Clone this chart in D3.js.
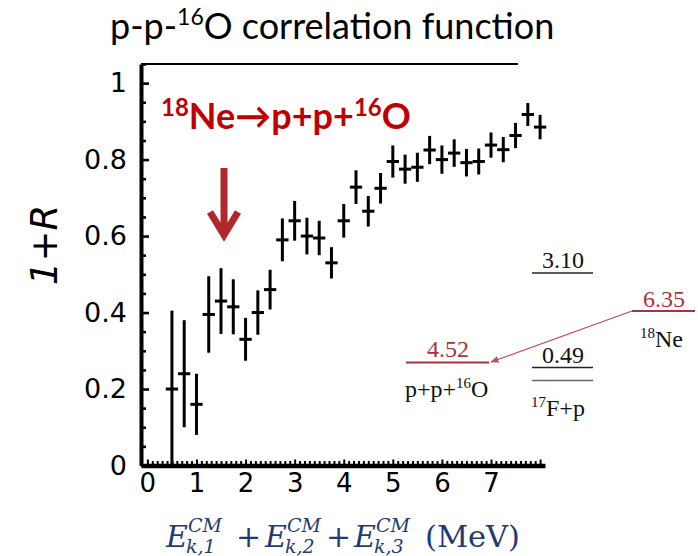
<!DOCTYPE html>
<html>
<head>
<meta charset="utf-8">
<script src="https://cdn.jsdelivr.net/npm/d3@7"></script>
<style>
  html, body { margin: 0; padding: 0; background: #ffffff; }
  svg { display: block; }
</style>
</head>
<body>
<svg id="chart" width="698" height="556"></svg>
<script>
// Summed centre-of-mass kinetic energy of the three particles (MeV), bin centres
const energy = [0.50, 0.75, 1.00, 1.25, 1.50, 1.75, 2.00, 2.25, 2.50, 2.75,
                3.00, 3.25, 3.50, 3.75, 4.00, 4.25, 4.50, 4.75, 5.00, 5.25,
                5.50, 5.75, 6.00, 6.25, 6.50, 6.75, 7.00, 7.25, 7.50, 7.75, 8.00];
// Correlation function 1+R
const ratio = [0.200, 0.240, 0.160, 0.395, 0.430, 0.415, 0.330, 0.400, 0.460, 0.590,
               0.640, 0.600, 0.595, 0.530, 0.640, 0.728, 0.665, 0.725, 0.795, 0.775,
               0.780, 0.825, 0.800, 0.817, 0.792, 0.795, 0.838, 0.826, 0.863, 0.918, 0.885];
// Statistical uncertainty on 1+R
const ratioErr = [0.205, 0.140, 0.080, 0.100, 0.086, 0.072, 0.056, 0.058, 0.052, 0.056,
                  0.052, 0.048, 0.045, 0.041, 0.044, 0.044, 0.040, 0.040, 0.042, 0.038,
                  0.038, 0.037, 0.037, 0.036, 0.036, 0.034, 0.033, 0.033, 0.033, 0.030, 0.032];
const binHalfWidth = 0.125;

// Axis ticks
const xTickValues = [0, 1, 2, 3, 4, 5, 6, 7];
const xTickLabels = ["0", "1", "2", "3", "4", "5", "6", "7"];
const yTickValues = [0, 0.2, 0.4, 0.6, 0.8, 1];
const yTickLabels = ["0", "0.2", "0.4", "0.6", "0.8", "1"];

// Decay-scheme levels (MeV)
const schemeLevels = ["3.10", "0.49", "6.35", "4.52"];

const svg = d3.select("#chart");

const x = d3.scaleLinear().domain([-0.13, 8.1]).range([141, 545]);
const y = d3.scaleLinear().domain([0, 1.05]).range([465.5, 64]);

const axisFont = "'DejaVu Sans', sans-serif";

// ---- frame: top edge only partly drawn, no right edge
svg.append("line")
  .attr("x1", x(-0.13)).attr("x2", 518)
  .attr("y1", y(1.05)).attr("y2", y(1.05))
  .attr("stroke", "#000").attr("stroke-width", 2);

// ---- y axis (ticks pointing into the plot)
const yMinor = d3.range(0, 1.051, 0.05).filter(v => Math.abs(v * 5 - Math.round(v * 5)) > 1e-6);
const yMinorAxis = svg.append("g")
  .attr("transform", `translate(${x(-0.13)},0)`)
  .call(d3.axisLeft(y).tickValues(yMinor).tickSizeInner(-5).tickSizeOuter(0).tickFormat(""));
yMinorAxis.select(".domain").remove();
yMinorAxis.selectAll(".tick line").attr("stroke-width", 2.6);

const yAxis = svg.append("g")
  .attr("transform", `translate(${x(-0.13)},0)`)
  .call(d3.axisLeft(y).tickValues(yTickValues).tickSizeInner(-8).tickSizeOuter(0)
    .tickPadding(14).tickFormat((d, i) => yTickLabels[i]));
yAxis.select(".domain").attr("stroke-width", 4);
yAxis.selectAll(".tick line").attr("stroke-width", 2.6);
yAxis.selectAll(".tick text")
  .attr("font-family", axisFont).attr("font-size", 27).attr("fill", "#000");

// ---- x axis
const xMinor = d3.range(0, 8.05, 0.1).map(v => +v.toFixed(1)).filter(v => v % 1 !== 0);
const xMinorAxis = svg.append("g")
  .attr("transform", `translate(0,${y(0)})`)
  .call(d3.axisBottom(x).tickValues(xMinor).tickSizeInner(-4.5).tickSizeOuter(0).tickFormat(""));
xMinorAxis.select(".domain").remove();
xMinorAxis.selectAll(".tick line").attr("stroke-width", 2);

const xAxis = svg.append("g")
  .attr("transform", `translate(0,${y(0)})`)
  .call(d3.axisBottom(x).tickValues(xTickValues.concat([8])).tickSizeInner(-6).tickSizeOuter(0)
    .tickPadding(8).tickFormat((d, i) => xTickLabels[i] || ""));
xAxis.select(".domain").attr("stroke-width", 4.5);
xAxis.selectAll(".tick line").attr("stroke-width", 2);
xAxis.selectAll(".tick text")
  .attr("font-family", axisFont).attr("font-size", 26).attr("fill", "#000");

// ---- data: error crosses
const pts = svg.append("g").attr("stroke", "#000").attr("stroke-width", 3);
energy.forEach((e, i) => {
  const lo = Math.max(0, ratio[i] - ratioErr[i]);
  const hi = ratio[i] + ratioErr[i];
  pts.append("line")
    .attr("x1", x(e)).attr("x2", x(e))
    .attr("y1", y(lo)).attr("y2", y(hi));
  pts.append("line")
    .attr("x1", x(e - binHalfWidth)).attr("x2", x(e + binHalfWidth))
    .attr("y1", y(ratio[i])).attr("y2", y(ratio[i]));
});

// ---- y title
svg.append("text")
  .attr("transform", "translate(57,245) rotate(-90)")
  .attr("text-anchor", "middle")
  .attr("font-family", axisFont).attr("font-style", "italic")
  .attr("font-size", 37).attr("fill", "#000")
  .text("1+R");

// ---- chart title
const title = svg.append("text")
  .attr("x", 110).attr("y", 39)
  .attr("font-family", "Lato, 'Open Sans', sans-serif")
  .attr("font-size", 36).attr("fill", "#000");
title.append("tspan").text("p-p-");
title.append("tspan").attr("font-size", 23).attr("dy", -14).text("16");
title.append("tspan").attr("dy", 14).text("O correlation function");

// ---- decay channel annotation
const red = "#c00000";
const ann = svg.append("text")
  .attr("x", 161).attr("y", 129)
  .attr("font-family", "Lato, 'Open Sans', sans-serif").attr("font-weight", "bold")
  .attr("font-size", 36).attr("fill", red);
ann.append("tspan").attr("font-size", 24).attr("dy", -13).text("18");
ann.append("tspan").attr("dy", 13).text("Ne\u2192p+p+");
ann.append("tspan").attr("font-size", 24).attr("dy", -13).text("16");
ann.append("tspan").attr("dy", 13).text("O");

// downward arrow marking the 6.35 MeV region
const arrowCol = "#b0282e";
svg.append("path")
  .attr("d", "M224,168 L224,232 M210,212 L224,235 L238,212")
  .attr("fill", "none").attr("stroke", arrowCol)
  .attr("stroke-width", 7).attr("stroke-linejoin", "miter").attr("stroke-linecap", "butt");

// ---- decay scheme
const serif = "'Liberation Serif', 'Times New Roman', serif";
const lvlRed = "#a8323e";
const scheme = svg.append("g").attr("font-family", serif).attr("font-size", 24);

function level(x1, x2, yy, col, w) {
  scheme.append("line").attr("x1", x1).attr("x2", x2).attr("y1", yy).attr("y2", yy)
    .attr("stroke", col).attr("stroke-width", w);
}
// 17F+p levels
level(532, 593, 273, "#222", 1.6);
scheme.append("text").attr("x", 563).attr("y", 268).attr("text-anchor", "middle")
  .attr("fill", "#111").text(schemeLevels[0]);
level(532, 593, 367.5, "#222", 1.6);
scheme.append("text").attr("x", 563).attr("y", 363).attr("text-anchor", "middle")
  .attr("fill", "#111").text(schemeLevels[1]);
level(532, 593, 380.5, "#666", 1.6);
const fp = scheme.append("text").attr("x", 531).attr("y", 416).attr("fill", "#111");
fp.append("tspan").attr("font-size", 15).attr("dy", -9).text("17");
fp.append("tspan").attr("dy", 9).text("F+p");

// 18Ne level
level(632, 695, 311, lvlRed, 2);
scheme.append("text").attr("x", 664).attr("y", 307).attr("text-anchor", "middle")
  .attr("fill", lvlRed).text(schemeLevels[2]);
const ne = scheme.append("text").attr("x", 640).attr("y", 347).attr("fill", "#111");
ne.append("tspan").attr("font-size", 15).attr("dy", -9).text("18");
ne.append("tspan").attr("dy", 9).text("Ne");

// p+p+16O threshold
level(406, 489, 362.5, lvlRed, 2);
scheme.append("text").attr("x", 448).attr("y", 357).attr("text-anchor", "middle")
  .attr("fill", lvlRed).text(schemeLevels[3]);
const ppo = scheme.append("text").attr("x", 405).attr("y", 397).attr("fill", "#111");
ppo.append("tspan").text("p+p+");
ppo.append("tspan").attr("font-size", 15).attr("dy", -9).text("16");
ppo.append("tspan").attr("dy", 9).text("O");

// transition arrow
svg.append("defs").append("marker")
  .attr("id", "head").attr("viewBox", "0 0 10 10").attr("refX", 9).attr("refY", 5)
  .attr("markerWidth", 7).attr("markerHeight", 7).attr("orient", "auto")
  .append("path").attr("d", "M0,1 L10,5 L0,9 Z").attr("fill", "#c44a5e");
svg.append("line")
  .attr("x1", 632).attr("y1", 311).attr("x2", 491).attr("y2", 362)
  .attr("stroke", "#c44a5e").attr("stroke-width", 1.2)
  .attr("marker-end", "url(#head)");

// ---- x title: sum of the three kinetic energies
const blue = "#1f3b73";
const xTitle = svg.append("g").attr("font-family", "'DejaVu Serif', serif").attr("fill", blue);
const mainBase = 547, supBase = 532, subBase = 553;
function energyTerm(x0, sub) {
  xTitle.append("text").attr("x", x0).attr("y", mainBase)
    .attr("font-style", "italic").attr("font-size", 30).text("E");
  xTitle.append("text").attr("x", x0 + 22).attr("y", supBase)
    .attr("font-style", "italic").attr("font-size", 19).text("CM");
  xTitle.append("text").attr("x", x0 + 20).attr("y", subBase)
    .attr("font-style", "italic").attr("font-size", 19).text("k," + sub);
}
energyTerm(166, "1");
xTitle.append("text").attr("x", 236).attr("y", mainBase).attr("font-size", 30).text("+");
energyTerm(265, "2");
xTitle.append("text").attr("x", 326).attr("y", mainBase).attr("font-size", 30).text("+");
energyTerm(354, "3");
xTitle.append("text").attr("x", 425).attr("y", mainBase).attr("font-size", 30)
  .attr("textLength", 95).attr("lengthAdjust", "spacingAndGlyphs").text("(MeV)");
</script>
</body>
</html>
